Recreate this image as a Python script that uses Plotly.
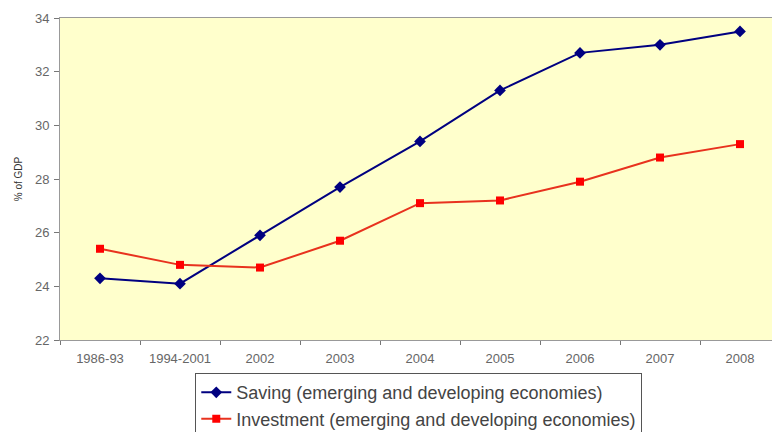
import plotly.graph_objects as go

categories = ["1986-93", "1994-2001", "2002", "2003", "2004", "2005", "2006", "2007", "2008"]
saving = [24.3, 24.1, 25.9, 27.7, 29.4, 31.3, 32.7, 33.0, 33.5]
investment = [25.4, 24.8, 24.7, 25.7, 27.1, 27.2, 27.9, 28.8, 29.3]
y_ticks = [22, 24, 26, 28, 30, 32, 34]

fig = go.Figure()
fig.add_trace(go.Scatter(
    x=categories, y=saving, mode="lines+markers",
    name="Saving (emerging and developing economies)",
    line=dict(color="#000080", width=2),
    marker=dict(symbol="diamond", size=9, color="#000080"),
))
fig.add_trace(go.Scatter(
    x=categories, y=investment, mode="lines+markers",
    name="Investment (emerging and developing economies)",
    line=dict(color="#E8321E", width=2),
    marker=dict(symbol="square", size=8, color="#FF0000"),
))

fig.update_layout(
    width=772, height=432,
    margin=dict(l=60, r=0, t=18, b=92, autoexpand=False),
    paper_bgcolor="white",
    plot_bgcolor="#FFFFCC",
    font=dict(family="Liberation Sans, Arial, sans-serif", color="#555555"),
    showlegend=True,
    legend=dict(
        x=0.19, y=-0.103, xanchor="left", yanchor="top",
        bordercolor="#555555", borderwidth=1,
        font=dict(size=18, color="#444444"),
        bgcolor="white",
        itemwidth=30,
    ),
)
fig.update_xaxes(
    type="category", range=[-0.5, 8.4],
    showline=True, linecolor="#999999", linewidth=1, mirror=True,
    ticks="outside", tickson="boundaries", ticklen=4, tickcolor="#777777",
    tickfont=dict(size=13, color="#666666"),
    ticklabelstandoff=6,
    showgrid=False, automargin=False,
)
fig.update_yaxes(
    range=[22, 34], tickvals=y_ticks,
    showline=True, linecolor="#999999", linewidth=1,
    ticks="outside", ticklen=5, tickcolor="#777777",
    tickfont=dict(size=13, color="#666666"),
    ticklabelstandoff=2,
    showgrid=False, zeroline=False, automargin=False,
    title=dict(text="% of GDP", font=dict(size=10, color="#333333"), standoff=10),
)

fig.write_html("out.html")
